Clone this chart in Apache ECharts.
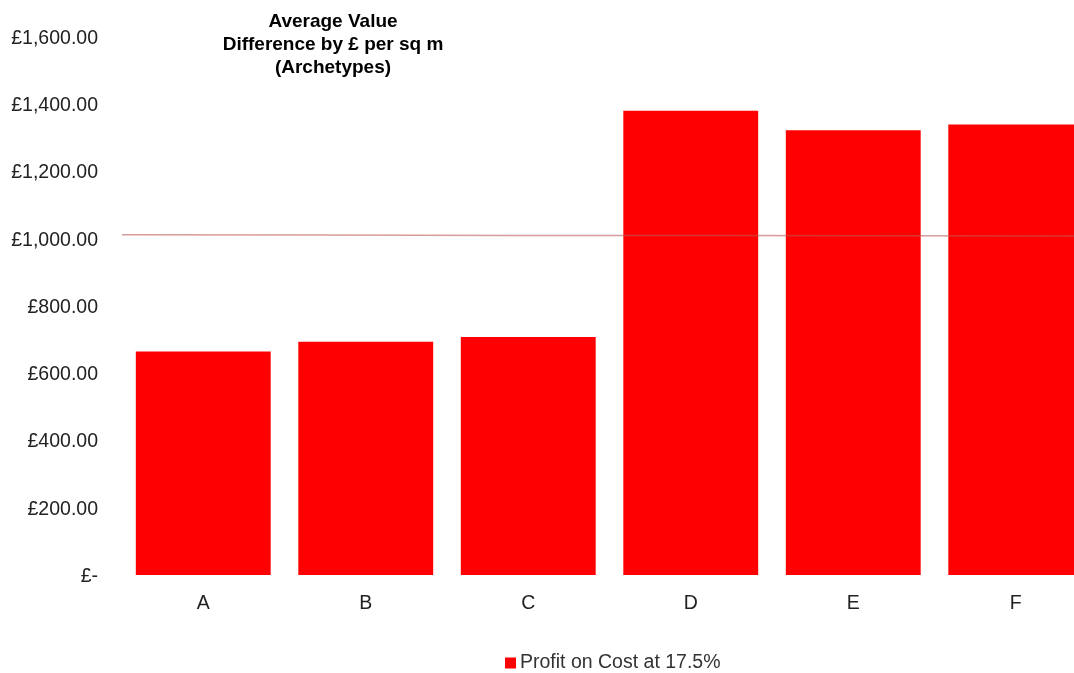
<!DOCTYPE html>
<html>
<head>
<meta charset="utf-8">
<script src="https://cdn.jsdelivr.net/npm/echarts@6/dist/echarts.min.js"></script>
<style>
  html, body { margin: 0; padding: 0; background: #fff; }
  #chart { width: 1074px; height: 673px; }
</style>
</head>
<body>
<div id="chart"></div>
<script>
// data
const categories = ['A', 'B', 'C', 'D', 'E', 'F'];
const profitValues = [665, 694, 708, 1381, 1323, 1340];
const averageLine = [1012, 1011, 1010, 1010, 1009, 1008];
const yTicks = [0, 200, 400, 600, 800, 1000, 1200, 1400, 1600];

const font = '"Liberation Sans", Arial, sans-serif';

function money(v) {
    if (v === 0) return '{v|£-}';
    return '{v|£' + v.toLocaleString('en-GB', { minimumFractionDigits: 2, maximumFractionDigits: 2 }) + '}';
}

const chartDom = document.getElementById('chart');
if (typeof echarts !== 'undefined' && chartDom) {
    const chart = echarts.init(chartDom);
    const option = {
        animation: false,
        title: {
            text: 'Average Value\nDifference by £ per sq m\n(Archetypes)',
            left: 328,
            top: 5,
            textAlign: 'center',
            textStyle: {
                fontFamily: font,
                fontSize: 19,
                fontWeight: 'bold',
                color: '#000',
                lineHeight: 23
            }
        },
        legend: {
            data: ['Profit on Cost at 17.5%'],
            icon: 'rect',
            left: 500,
            top: 648,
            itemWidth: 11,
            itemHeight: 11,
            itemGap: 10,
            textStyle: { fontFamily: font, fontSize: 19.5, color: '#333', padding: [0, 0, 0, -1] }
        },
        // the last bar runs past the right edge in the reference
        grid: { left: 122, top: 37, height: 538, width: 975, outerBoundsMode: 'none' },
        xAxis: [
            {
                type: 'category',
                data: categories,
                axisLine: { show: false },
                axisTick: { show: false },
                axisLabel: { fontFamily: font, fontSize: 19.5, color: '#222', margin: 19 }
            },
            {
                type: 'category',
                data: categories,
                boundaryGap: false,
                show: false
            }
        ],
        yAxis: {
            type: 'value',
            min: yTicks[0],
            max: yTicks[yTicks.length - 1],
            interval: 200,
            splitLine: { show: false },
            axisLine: { show: false },
            axisTick: { show: false },
            axisLabel: {
                margin: 24,
                formatter: money,
                rich: {
                    v: {
                        fontFamily: font,
                        fontSize: 19.5,
                        color: '#222',
                        padding: [3, 0, 0, 0]
                    }
                }
            }
        },
        series: [
            {
                name: 'Profit on Cost at 17.5%',
                type: 'bar',
                data: profitValues,
                barCategoryGap: '17%',
                itemStyle: { color: '#ff0000' }
            },
            {
                name: 'Average',
                type: 'line',
                xAxisIndex: 1,
                data: averageLine,
                symbol: 'none',
                z: 5,
                lineStyle: { color: 'rgba(190, 90, 90, 0.6)', width: 1.5 }
            }
        ]
    };
    chart.setOption(option);
    window.addEventListener('resize', () => chart.resize());
} else {
    console.error('ECharts library not loaded.');
}
</script>
</body>
</html>
